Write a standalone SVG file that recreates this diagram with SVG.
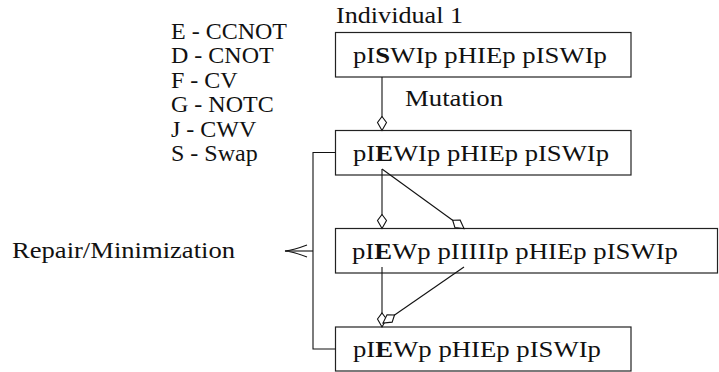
<svg xmlns="http://www.w3.org/2000/svg" width="719" height="372" viewBox="0 0 719 372" font-family="'Liberation Serif', 'Times New Roman', serif">
<style>
text{font-family:'Liberation Serif','Times New Roman',serif;font-size:24px;fill:#111}
.box{fill:#fff;stroke:#222;stroke-width:1.2}
.ln{fill:none;stroke:#111;stroke-width:1.1}
.b{font-weight:bold}
</style>
<defs>
<marker id="dia" markerUnits="userSpaceOnUse" orient="auto" markerWidth="20" markerHeight="12" refX="15" refY="6" viewBox="0 0 20 12">
<path d="M1,6 L7,1.5 L15,6 L7,10.5 Z" fill="#fff" stroke="#111" stroke-width="1.1"/>
</marker>
<marker id="to" markerUnits="userSpaceOnUse" orient="auto" markerWidth="26" markerHeight="16" refX="23" refY="8" viewBox="0 0 26 16">
<path d="M1,2 Q14,7 23,8 Q14,9 1,14" fill="none" stroke="#111" stroke-width="1.1"/>
</marker>
</defs>
<g id="legend">
<text x="171" y="39" font-family="Liberation Serif">E - CCNOT</text>
<text x="171" y="63.4" font-family="Liberation Serif">D - CNOT</text>
<text x="171" y="87.8" font-family="Liberation Serif">F - CV</text>
<text x="171" y="112.2" font-family="Liberation Serif">G - NOTC</text>
<text x="171" y="136.6" font-family="Liberation Serif">J - CWV</text>
<text x="171" y="161" font-family="Liberation Serif">S - Swap</text>
</g>
<g id="label-individual"><text x="336" y="23" font-family="Liberation Serif" textLength="127" lengthAdjust="spacingAndGlyphs">Individual 1</text></g>
<g id="box1">
<rect class="box" x="335.5" y="32.5" width="295.5" height="44.5"/>
<text x="353" y="62.5" font-family="Liberation Serif" textLength="254" lengthAdjust="spacingAndGlyphs">pI<tspan class="b">S</tspan>WIp pHIEp pISWIp</text>
</g>
<g id="label-mutation"><text x="405" y="106" font-family="Liberation Serif" textLength="98" lengthAdjust="spacingAndGlyphs">Mutation</text></g>
<g id="box2">
<rect class="box" x="335.5" y="130.5" width="295.5" height="44.5"/>
<text x="353" y="160.5" font-family="Liberation Serif" textLength="256" lengthAdjust="spacingAndGlyphs">pI<tspan class="b">E</tspan>WIp pHIEp pISWIp</text>
</g>
<g id="box3">
<rect class="box" x="335.5" y="228.5" width="382" height="44.5"/>
<text x="352" y="258.5" font-family="Liberation Serif" textLength="326" lengthAdjust="spacingAndGlyphs">pI<tspan class="b">E</tspan>Wp pIIIIIp pHIEp pISWIp</text>
</g>
<g id="box4">
<rect class="box" x="335.5" y="327" width="295.5" height="44"/>
<text x="353" y="357" font-family="Liberation Serif" textLength="248" lengthAdjust="spacingAndGlyphs">pI<tspan class="b">E</tspan>Wp pHIEp pISWIp</text>
</g>
<g id="label-repair"><text x="12" y="258" font-family="Liberation Serif" textLength="223" lengthAdjust="spacingAndGlyphs">Repair/Minimization</text></g>
<g id="connectors">
<path class="ln" d="M382,77 L382,130.5" marker-end="url(#dia)"/>
<path class="ln" d="M382,169 L382,228.5" marker-end="url(#dia)"/>
<path class="ln" d="M382,169 L464,228.5" marker-end="url(#dia)"/>
<path class="ln" d="M382,267 L382,327" marker-end="url(#dia)"/>
<path class="ln" d="M464,267 L383,323" marker-end="url(#dia)"/>
<path class="ln" d="M335.5,152.5 H313 V349 H335.5"/>
<path class="ln" d="M313,251 H285" marker-end="url(#to)"/>
</g>
</svg>
